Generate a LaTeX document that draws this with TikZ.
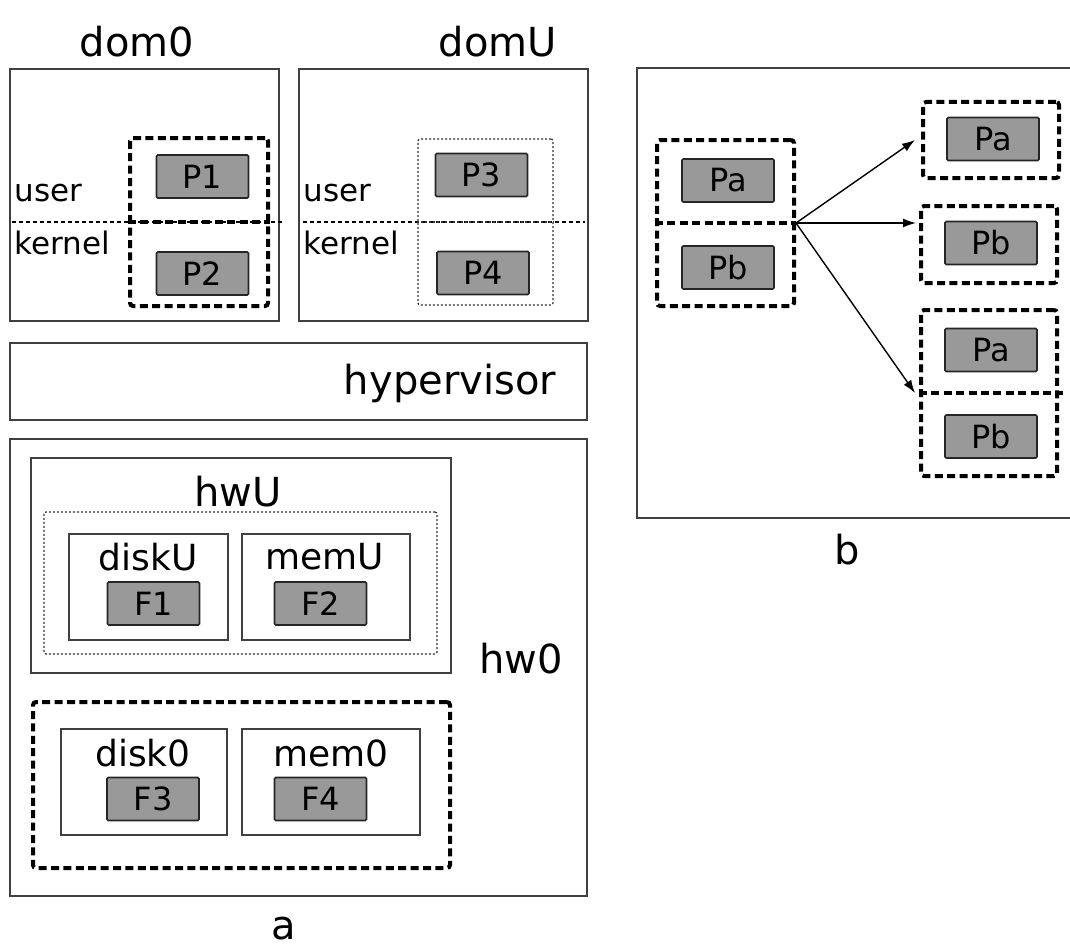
\documentclass[tikz,border=0pt]{standalone}
\usepackage{fontspec}
\setmainfont{DejaVu Sans}
\usetikzlibrary{arrows.meta, fit}

\begin{document}
\begin{tikzpicture}[
    x=0.5pt, y=-0.5pt,
    frame/.style={
        draw=black!75,
        line width=1pt,
        inner sep=0pt
    },
    grp/.style={
        draw,
        line width=2pt,
        dash pattern=on 4pt off 2.2pt,
        rounded corners=1.5pt,
        inner sep=0pt
    },
    vgrp/.style={
        draw=black!80,
        line width=0.6pt,
        dash pattern=on 1pt off 1pt,
        rounded corners=1pt,
        inner sep=0pt
    },
    proc/.style={
        draw=black!85,
        line width=0.8pt,
        fill=black!40,
        rounded corners=0.6pt,
        inner sep=0pt,
        minimum width=46pt,
        minimum height=21.5pt,
        font=\fontsize{16}{16}\selectfont
    },
    title/.style={font=\fontsize{20}{20}\selectfont},
    dev/.style={font=\fontsize{18}{18}\selectfont},
    mode/.style={anchor=west, inner sep=0pt, font=\fontsize{15.5}{15.5}\selectfont},
    sep/.style={line width=0.7pt, dash pattern=on 2pt off 1.5pt},
    arrow/.style={-{Latex[length=6.5pt,width=4.5pt]}, line width=0.7pt}
]
    \useasboundingbox (0,0) rectangle (1070,947);

    % part a: domains
    \node [title] (dom0lbl) at (137,42) {dom0};
    \node [title] (domUlbl) at (498,42) {domU};

    \node [frame, fit={(10,69) (279,321)}] (dom0) {};
    \draw [sep] (12,222) -- (284,222);
    \node [grp, fit={(130,138) (268,306)}] (grp0) {};
    \draw [grp] (grp0.west) -- (grp0.east);
    \node [proc] (p1) at (202.5,176.5) {P1};
    \node [proc] (p2) at (202.5,273.5) {P2};
    \node [mode] (user0) at (14,193) {user};
    \node [mode] (kern0) at (14,243) {kernel};

    \node [frame, fit={(299,69) (588,321)}] (domU) {};
    \draw [sep] (303,222) -- (585,222);
    \node [vgrp, fit={(418,139) (553,305)}] (vgrpU) {};
    \draw [vgrp] (vgrpU.west) -- (vgrpU.east);
    \node [proc] (p3) at (481.5,175) {P3};
    \node [proc] (p4) at (483,273) {P4};
    \node [mode] (userU) at (303,193) {user};
    \node [mode] (kernU) at (303,243) {kernel};

    % hypervisor
    \node [frame, fit={(10,343) (587,420)}] (hyp) {};
    \node [title] (hyplbl) at (450,383) {hypervisor};

    % hardware
    \node [frame, fit={(10,439) (587,896)}] (hw0) {};
    \node [title] (hw0lbl) at (521,659) {hw0};
    \node [frame, fit={(31,458) (451,673)}] (hwU) {};
    \node [title] (hwUlbl) at (238,492) {hwU};
    \node [vgrp, fit={(44,512) (437,654)}] (vgrpH) {};
    \node [frame, fit={(69,534) (228,640)}] (diskU) {};
    \node [frame, fit={(242,534) (410,640)}] (memU) {};
    \node [dev] (diskUlbl) at (148,557) {diskU};
    \node [dev] (memUlbl) at (325,557) {memU};
    \node [proc] (f1) at (153.5,603.5) {F1};
    \node [proc] (f2) at (320.5,603.5) {F2};

    \node [grp, fit={(33,702) (450,868)}] (grpH) {};
    \node [frame, fit={(61,729) (227,835)}] (disk0) {};
    \node [frame, fit={(242,729) (420,835)}] (mem0) {};
    \node [dev] (disk0lbl) at (143,753) {disk0};
    \node [dev] (mem0lbl) at (331,753) {mem0};
    \node [proc] (f3) at (153,799) {F3};
    \node [proc] (f4) at (320.5,799) {F4};

    \node [title] (alabel) at (284,929) {a};

    % part b
    \node [frame, fit={(637,68) (1085,518)}] (bframe) {};
    \node [grp, fit={(657,140) (794,306)}] (gsrc) {};
    \draw [grp] (gsrc.west) -- (gsrc.east);
    \node [proc] (pa) at (728,180.5) {Pa};
    \node [proc] (pb) at (728,267.5) {Pb};

    \node [grp, fit={(923,102) (1059,178)}] (gtop) {};
    \node [proc] (pa1) at (993,139) {Pa};
    \node [grp, fit={(921,206) (1057,283)}] (gmid) {};
    \node [proc] (pb1) at (991,243) {Pb};
    \node [grp, fit={(921,310) (1057,476)}] (gbot) {};
    \draw [grp] (gbot.west) -- ([xshift=2pt]gbot.east);
    \node [proc] (pa2) at (991,350) {Pa};
    \node [proc] (pb2) at (991,436.5) {Pb};

    \draw [arrow] (gsrc.east) -- ([xshift=-3pt]gtop.west);
    \draw [arrow] (gsrc.east) -- ([xshift=-1.5pt]gmid.west |- gsrc.east);
    \draw [arrow] (gsrc.east) -- ([xshift=-2pt]gbot.west);

    \node [title] (blabel) at (847,550) {b};

\end{tikzpicture}
\end{document}
